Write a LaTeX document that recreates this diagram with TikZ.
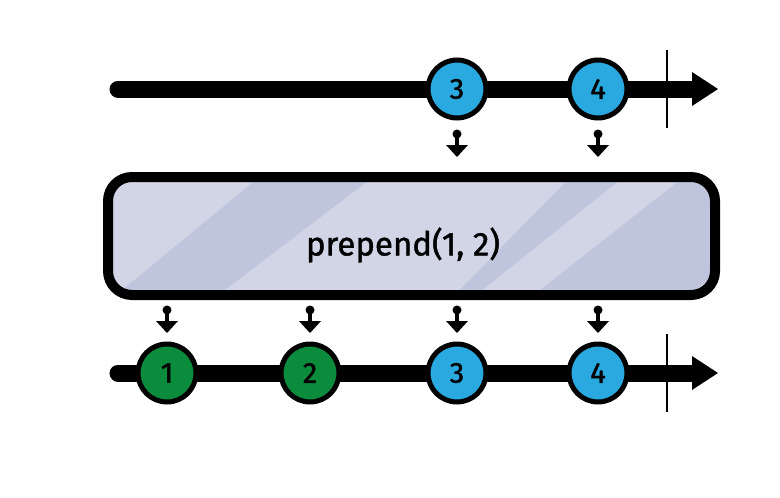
\documentclass[tikz,border=0pt]{standalone}
\usepackage{fontspec}
\setmainfont{Fira Sans}
\newfontfamily\markfont{Fira Sans}[FakeBold=1.3]
\definecolor{mblue}{HTML}{29A9E0}
\definecolor{mgreen}{HTML}{0B8C3C}
\definecolor{boxfill}{HTML}{BFC5DC}
\definecolor{boxlight}{HTML}{D1D5E5}
\begin{document}
\begin{tikzpicture}[x=1pt,y=-1pt,
  marble/.style={circle,draw=black,line width=5pt,minimum size=58pt,inner sep=0pt,font=\markfont\fontsize{29}{29}\selectfont},
  bluem/.style={marble,fill=mblue},
  greenm/.style={marble,fill=mgreen},
  axis/.style={line width=17pt,line cap=round},
  tick/.style={line width=2.8pt},
  drop/.pic={
    \fill (0,0) circle (4.5);
    \draw[line width=4.5pt] (0,0) -- (0,12);
    \fill (-11,11) -- (11,11) -- (0,23) -- cycle;
  }]
\useasboundingbox (0,0) rectangle (780,498);

% top timeline
\coordinate (ts) at (118,89);
\coordinate (te) at (700,89);
\draw[axis] (ts) -- (te);
\fill (te) ++(-8,-17) -- ++(26,17) -- ++(-26,17) -- cycle;
\draw[tick] (667,50) -- (667,128);
\node[bluem] (t3) at (457,89) {3};
\node[bluem] (t4) at (598,89) {4};

\pic at (457,134) {drop};
\pic at (598,134) {drop};

% operator box
\begin{scope}
  \clip[rounded corners=24pt] (107,176) rectangle (716,296);
  \fill[boxfill] (100,170) rectangle (720,300);
  \fill[boxlight] (-100,300) -- (110,300) -- (265,172) -- (60,172) -- cycle;
  \fill[boxlight] (212,300) -- (450,300) -- (575,172) -- (380,172) -- cycle;
  \fill[boxlight] (470,300) -- (527,300) -- (690,172) -- (630,172) -- cycle;
  \fill[boxlight] (683,300) -- (800,300) -- (900,172) -- (843,172) -- cycle;
\end{scope}
\node[draw=black,line width=10pt,rounded corners=24pt,minimum width=607pt,minimum height=118pt] (op) at (411.5,236) {};
\node[font=\markfont\fontsize{33}{33}\selectfont] (lbl) at (403,245) {prepend(1, 2)};

\pic at (167,310) {drop};
\pic at (310,310) {drop};
\pic at (457,310) {drop};
\pic at (598,310) {drop};

% bottom timeline
\coordinate (bs) at (118,373);
\coordinate (be) at (700,373);
\draw[axis] (bs) -- (be);
\fill (be) ++(-8,-17) -- ++(26,17) -- ++(-26,17) -- cycle;
\draw[tick] (667,334) -- (667,412);
\node[greenm] (b1) at (167,373) {1};
\node[greenm] (b2) at (310,373) {2};
\node[bluem] (b3) at (457,373) {3};
\node[bluem] (b4) at (598,373) {4};
\end{tikzpicture}
\end{document}
